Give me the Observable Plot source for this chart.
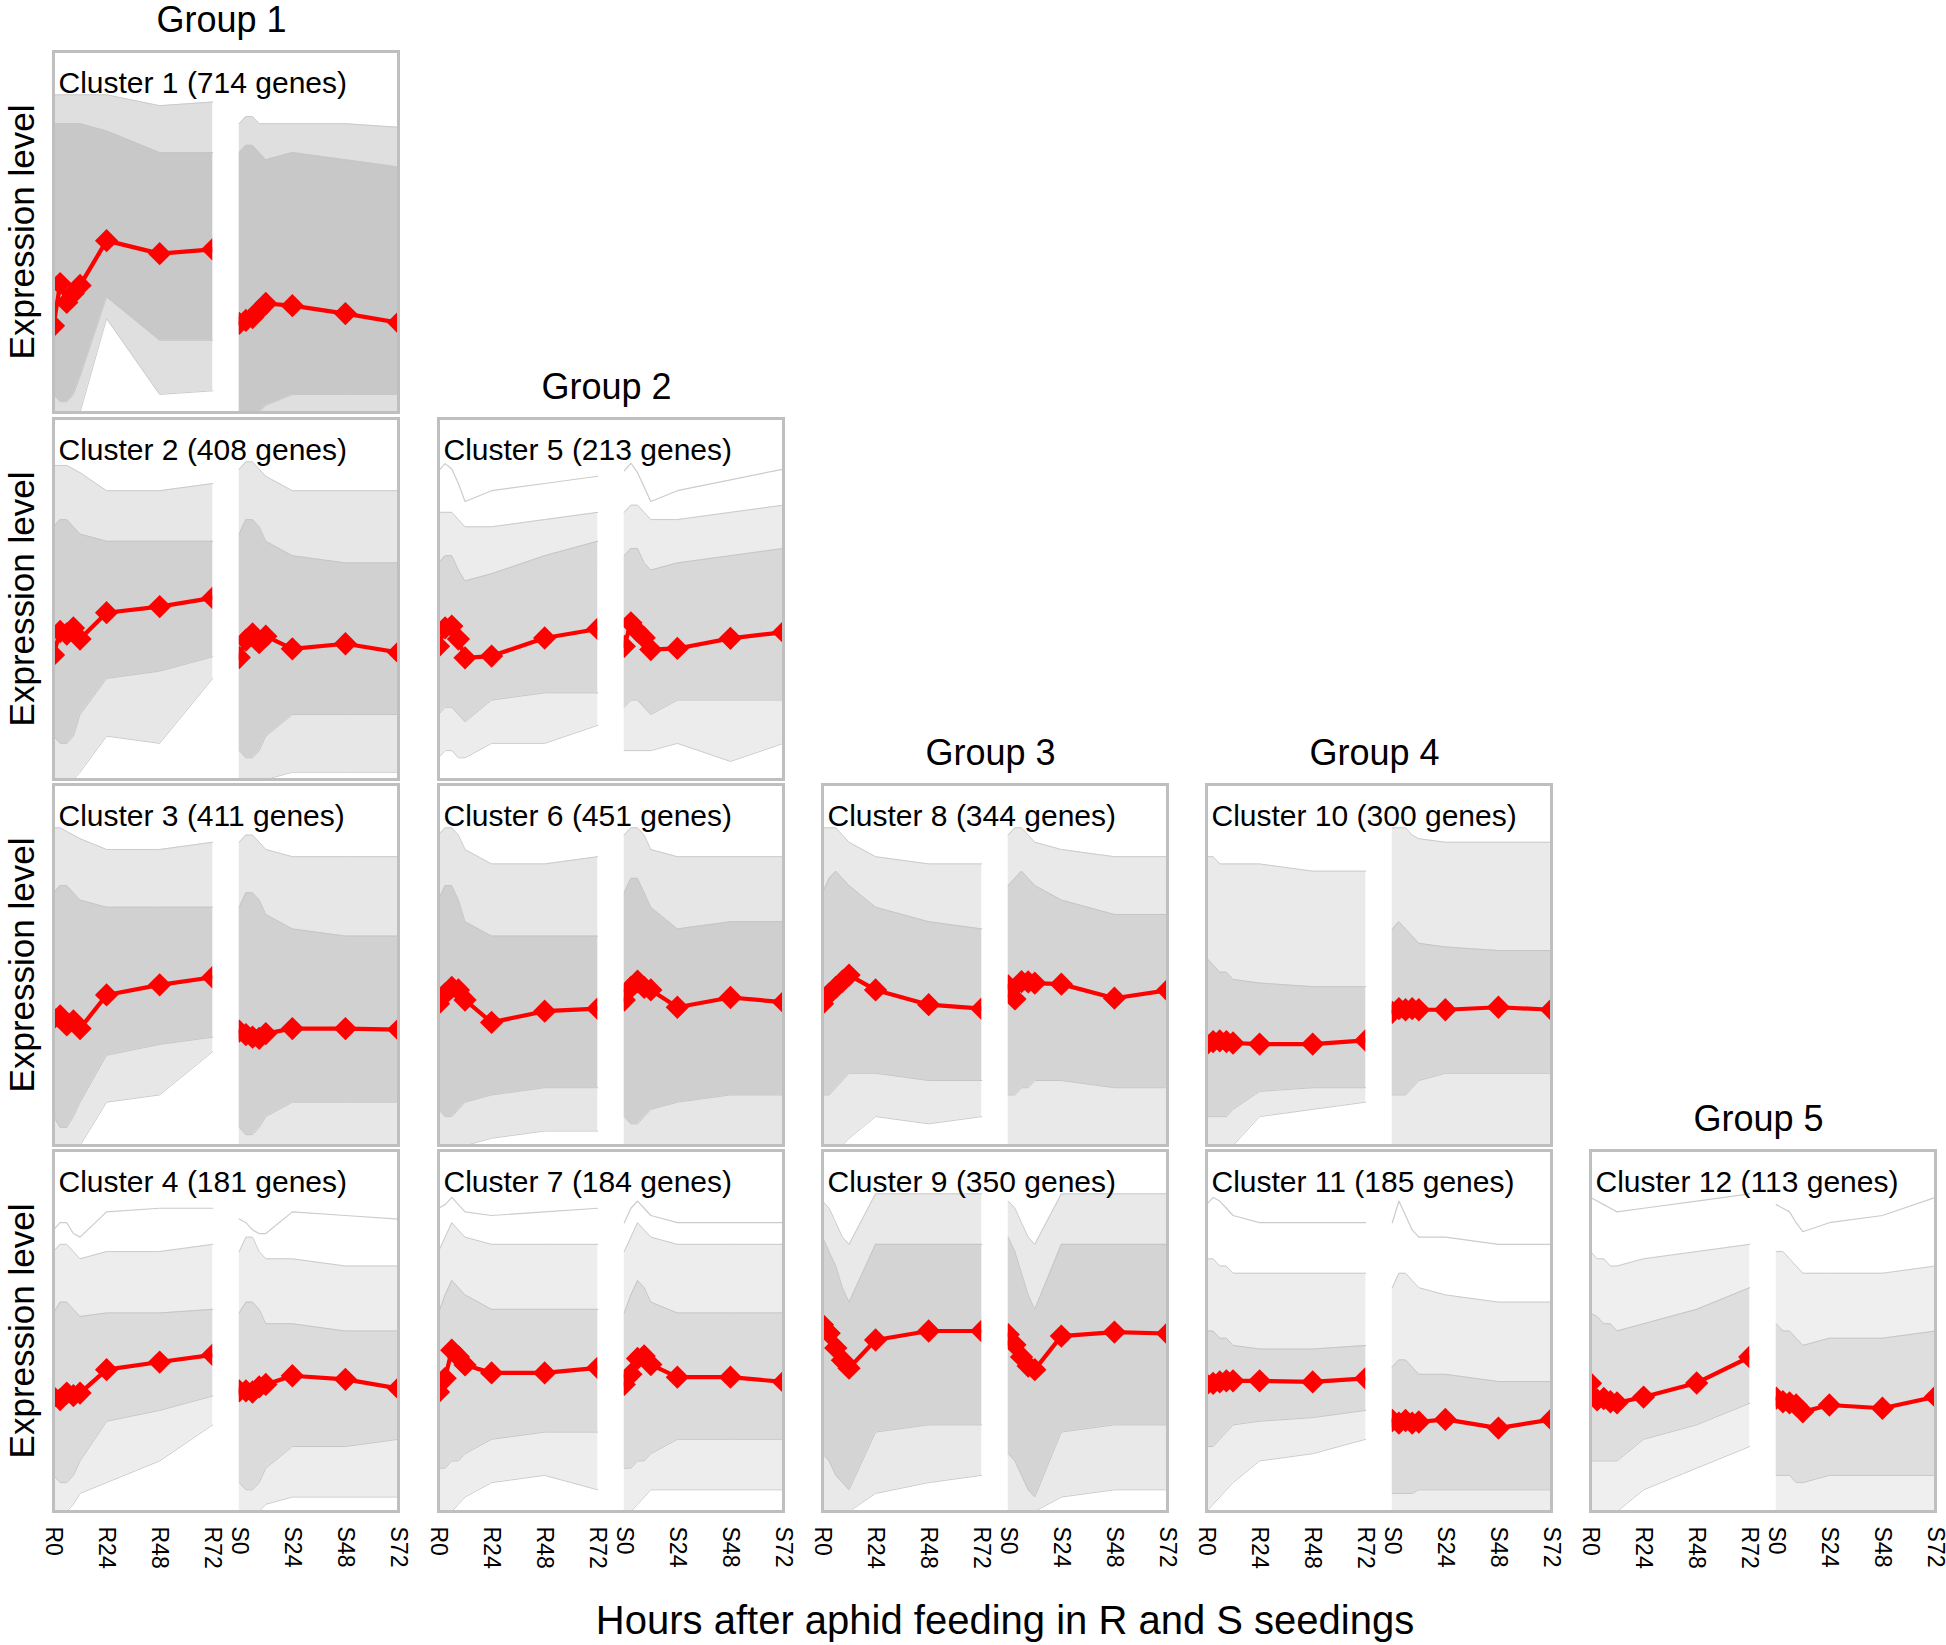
<!DOCTYPE html>
<html><head><meta charset="utf-8">
<script src="https://cdn.jsdelivr.net/npm/d3@7"></script>
<script src="https://cdn.jsdelivr.net/npm/@observablehq/plot@0.6"></script>
<style>
html,body{margin:0;padding:0;background:#fff;}
#fig{position:relative;width:1946px;height:1645px;font-family:"Liberation Sans",Arial,Helvetica,sans-serif;color:#000;overflow:hidden;}
.abs{position:absolute;white-space:nowrap;line-height:1;}
.group{font-size:36px;transform:translate(-50%,-50%);}
.ylab{font-size:35px;transform:translate(-50%,-50%) rotate(-90deg);}
.xlab{font-size:40px;transform:translate(-50%,-50%);}
.panel{position:absolute;}
</style></head><body><div id="fig"></div>
<script>
// ---------- data ----------
const times = [0, 3, 6, 9, 12, 24, 48, 72];
const tickValues = [0, 24, 48, 72, 84, 108, 132, 156];
const tickLabels = ["R0", "R24", "R48", "R72", "S0", "S24", "S48", "S72"];
const clusterIds = [1, 2, 3, 4, 5, 6, 7, 8, 9, 10, 11, 12];
const geneCounts = [714, 408, 411, 181, 213, 451, 184, 344, 350, 300, 185, 113];
const groupOf = [1, 1, 1, 1, 2, 2, 2, 3, 3, 4, 4, 5];
const groupLabels = ["Group 1", "Group 2", "Group 3", "Group 4", "Group 5"];
const xTitle = "Hours after aphid feeding in R and S seedings";
const yTitle = "Expression level";

// mean profiles (red), R genotype then S genotype
const meanR = [
  [24, 35.7, 30.5, 33, 35.2, 47.6, 44, 45.2],
  [34.5, 41, 40.3, 42, 38.9, 46.2, 47.9, 50.3],
  [35.2, 35.9, 33.4, 34.5, 32.4, 41.7, 44.5, 46.6],
  [31.7, 31, 32.8, 32.1, 32.8, 39.3, 41.4, 43.4],
  [36.9, 42, 42.5, 38.9, 33.7, 34.2, 39.2, 41.7],
  [39.3, 42, 43.8, 43.1, 40.3, 34.1, 37.2, 37.9],
  [33.1, 36.9, 44.7, 42.9, 40.6, 38.4, 38.4, 39.8],
  [39.3, 42, 43.8, 45.5, 47.2, 43.1, 39, 37.9],
  [51.7, 49.4, 45.3, 41.9, 39.7, 47.5, 50, 50],
  [28, 28.8, 29, 28.8, 28.4, 28.1, 28.1, 29.1],
  [35.2, 35.5, 35.9, 36.2, 36.2, 36.2, 35.9, 36.9],
  [35.5, 30.9, 31.3, 30.4, 30.1, 31.7, 35.6, 42.8]
];
const meanS = [
  [24.7, 25.5, 26.3, 28.3, 30.2, 29.6, 27.4, 24.9],
  [33.8, 38.6, 40.3, 37.9, 39.7, 36.2, 37.6, 35.2],
  [31.7, 30.7, 30, 29.7, 31, 32.4, 32.4, 32.1],
  [33.4, 33.4, 33.1, 34.5, 35.2, 37.6, 36.6, 34.1],
  [36.9, 43.4, 41.1, 39.3, 36, 36.3, 39.1, 40.8],
  [40.3, 43.8, 45.5, 43.8, 43.1, 38.3, 41, 39.7],
  [35.2, 38, 42.4, 43.1, 40.7, 37.2, 37.2, 35.9],
  [44.2, 40.6, 45.4, 45.3, 45, 44.7, 40.8, 43],
  [49, 46.2, 42.8, 40.3, 39.3, 48.6, 49.7, 49.3],
  [36.9, 37.9, 37.6, 37.9, 37.6, 37.6, 38.3, 37.6],
  [25.2, 24.5, 25.2, 24.5, 24.8, 25.5, 23.1, 25.5],
  [31.4, 30.4, 30.1, 29.5, 27.6, 29.5, 28.6, 31.8]
];

// gray gene profiles, summarised as envelopes
const outerHiR = [
  [88, 88, 88, 88, 88, 88, 85, 86], [87, 87, 87, 86, 85, 80, 80, 82], [88, 88, 87, 86, 85, 82, 82, 84],
  [72, 74, 74, 72, 70, 72, 72, 74], [74, 74, 74, 72, 70, 70, 72, 74], [86, 88, 88, 86, 82, 78, 78, 80],
  [72, 76, 80, 78, 76, 74, 74, 74], [88, 88, 88, 86, 84, 80, 78, 78], [86, 84, 80, 76, 74, 88, 88, 88],
  [80, 80, 78, 78, 78, 78, 76, 76], [70, 70, 68, 68, 66, 66, 66, 66], [72, 70, 70, 68, 68, 70, 72, 74]
];
const outerLoR = [
  [0, 0, 0, 0, 0, 26, 5, 6], [0, 0, 0, 0, 2, 12, 10, 28], [0, 0, 0, 0, 0, 12, 14, 26],
  [0, 0, 0, 2, 5, 8, 14, 24], [6, 8, 8, 6, 6, 10, 10, 15], [0, 0, 0, 0, 0, 2, 4, 4],
  [0, 0, 0, 2, 4, 8, 10, 6], [0, 0, 0, 0, 2, 8, 6, 8], [0, 0, 0, 0, 0, 5, 8, 10],
  [0, 0, 0, 0, 0, 8, 10, 12], [0, 2, 4, 6, 8, 14, 16, 20], [0, 0, 0, 0, 0, 6, 12, 18]
];
const denseHiR = [
  [80, 80, 80, 80, 80, 78, 72, 72], [70, 72, 72, 70, 68, 66, 66, 66], [70, 72, 72, 70, 68, 66, 66, 66],
  [55, 58, 58, 56, 54, 55, 55, 56], [60, 62, 62, 58, 55, 57, 62, 66], [68, 72, 72, 68, 62, 58, 58, 58],
  [55, 60, 64, 62, 60, 56, 56, 56], [70, 74, 76, 74, 72, 66, 62, 60], [76, 72, 68, 62, 58, 74, 74, 74],
  [52, 50, 48, 48, 46, 45, 44, 44], [50, 50, 48, 48, 46, 45, 45, 46], [55, 54, 52, 52, 50, 52, 56, 62]
];
const denseLoR = [
  [5, 3, 3, 5, 10, 32, 20, 20], [12, 10, 10, 12, 18, 28, 30, 34], [8, 5, 5, 8, 12, 25, 28, 30],
  [10, 8, 8, 10, 14, 25, 28, 32], [18, 20, 20, 18, 16, 22, 24, 24], [10, 8, 8, 10, 12, 14, 16, 16],
  [12, 12, 14, 14, 16, 20, 22, 22], [14, 14, 16, 18, 20, 20, 18, 18], [16, 14, 10, 8, 6, 22, 24, 24],
  [8, 8, 8, 8, 10, 15, 16, 16], [18, 18, 20, 22, 24, 25, 26, 28], [14, 14, 14, 14, 14, 20, 24, 30]
];
const outerHiS = [
  [80, 82, 82, 80, 80, 80, 80, 79], [86, 88, 88, 86, 84, 80, 80, 80], [84, 86, 86, 84, 82, 80, 80, 80],
  [72, 76, 76, 72, 70, 70, 68, 68], [74, 76, 76, 74, 72, 72, 74, 76], [86, 88, 88, 86, 82, 80, 80, 80],
  [72, 76, 80, 78, 76, 74, 74, 74], [86, 88, 88, 86, 84, 82, 80, 80], [86, 84, 80, 76, 74, 88, 88, 88],
  [88, 88, 88, 86, 85, 84, 84, 84], [62, 66, 66, 64, 62, 60, 58, 58], [72, 72, 70, 68, 66, 66, 66, 68]
];
const outerLoS = [
  [0, 0, 0, 0, 0, 0, 0, 0], [0, 0, 0, 0, 0, 2, 2, 2], [0, 0, 0, 0, 0, 0, 0, 0],
  [0, 0, 0, 0, 2, 4, 4, 4], [8, 8, 8, 8, 8, 10, 5, 10], [0, 0, 0, 0, 0, 0, 0, 0],
  [0, 0, 2, 4, 6, 6, 6, 6], [0, 0, 0, 0, 0, 0, 0, 0], [0, 0, 0, 0, 0, 4, 6, 6],
  [0, 0, 0, 0, 0, 0, 0, 0], [0, 0, 0, 0, 0, 0, 0, 0], [0, 0, 0, 0, 0, 0, 0, 0]
];
const denseHiS = [
  [72, 74, 74, 72, 70, 72, 70, 68], [68, 72, 72, 70, 66, 62, 60, 60], [66, 70, 70, 68, 64, 60, 58, 58],
  [55, 58, 58, 56, 52, 52, 50, 50], [62, 64, 64, 60, 58, 60, 62, 64], [70, 74, 74, 70, 66, 60, 62, 62],
  [55, 60, 64, 62, 58, 55, 55, 55], [72, 74, 76, 74, 72, 68, 64, 64], [76, 72, 66, 60, 56, 74, 74, 74],
  [60, 62, 60, 58, 56, 55, 54, 54], [40, 42, 42, 40, 38, 38, 36, 36], [52, 50, 50, 48, 46, 48, 48, 50]
];
const denseLoS = [
  [0, 0, 0, 0, 2, 5, 5, 5], [8, 6, 6, 8, 12, 18, 18, 18], [5, 3, 3, 5, 8, 12, 12, 12],
  [8, 6, 6, 8, 12, 18, 18, 20], [20, 22, 22, 20, 18, 22, 22, 22], [8, 6, 6, 8, 10, 12, 14, 14],
  [12, 12, 14, 14, 16, 20, 20, 20], [14, 14, 16, 16, 18, 18, 16, 16], [16, 14, 10, 6, 4, 22, 24, 24],
  [14, 14, 14, 16, 18, 20, 20, 20], [5, 5, 5, 5, 6, 6, 6, 6], [10, 10, 10, 8, 8, 10, 10, 10]
];
// conspicuous single gene profiles near the top of some panels
const topGeneR = [null, null, null,
  [78, 80, 80, 77, 76, 83, 84, 84], [85.5, 87.5, 86, 82, 77, 80, 82, 84], null,
  [84, 85, 87, 85, 83, 82, 83, 84], null, null, null,
  [85, 87, 86, 84, 82, 80, 80, 80], [87, 86, 85, 84, 83, 84, 86, 88]];
const topGeneS = [null, null, null,
  [81, 80, 78, 77, 77, 83, 82, 81], [85.5, 87.6, 85, 81, 77, 80, 83, 86], null,
  [80, 84, 86, 84, 82, 80, 80, 80], null, null, null,
  [80, 86, 82, 78, 76, 76, 74, 74], [85, 84, 83, 80, 77.5, 80, 82, 87]];

// ---------- layout ----------
const panelCol = [0, 0, 0, 0, 1, 1, 1, 2, 2, 3, 3, 4];
const panelRow = [0, 1, 2, 3, 1, 2, 3, 2, 3, 2, 3, 3];
const colX = [53, 438, 822, 1206, 1590];
const rowY = [51, 418, 784, 1150];
const PW = 345, PH = 361, M = 3;
const sOffset = 84;

const fig = document.getElementById("fig");
let clipCounter = 0;
function clipX(lo, hi) {
  return function (index, scales, values, dims, context, next) {
    const g = next(index, scales, values, dims, context);
    if (!g) return g;
    const ns = "http://www.w3.org/2000/svg";
    const id = "clp" + (clipCounter++);
    const wrap = document.createElementNS(ns, "g");
    const cp = document.createElementNS(ns, "clipPath");
    cp.setAttribute("id", id);
    const r = document.createElementNS(ns, "rect");
    const x0 = scales.x(lo), x1 = scales.x(hi);
    r.setAttribute("x", x0);
    r.setAttribute("width", x1 - x0);
    r.setAttribute("y", dims.marginTop);
    r.setAttribute("height", dims.height - dims.marginTop - dims.marginBottom);
    cp.appendChild(r);
    wrap.appendChild(cp);
    const inner = document.createElementNS(ns, "g");
    inner.setAttribute("clip-path", `url(#${id})`);
    inner.appendChild(g);
    wrap.appendChild(inner);
    return wrap;
  };
}

function rows(i, geno) {
  const off = geno === "R" ? 0 : sOffset;
  const mean = geno === "R" ? meanR[i] : meanS[i];
  const oh = geno === "R" ? outerHiR[i] : outerHiS[i];
  const ol = geno === "R" ? outerLoR[i] : outerLoS[i];
  const dh = geno === "R" ? denseHiR[i] : denseHiS[i];
  const dl = geno === "R" ? denseLoR[i] : denseLoS[i];
  const tg = geno === "R" ? topGeneR[i] : topGeneS[i];
  return times.map((t, j) => ({
    t: t + off, geno, mean: mean[j], oh: oh[j], ol: ol[j], dh: dh[j], dl: dl[j],
    top: tg ? tg[j] : null
  }));
}

const firstOfGroup = {};
clusterIds.forEach((c, i) => {
  const row = panelRow[i], col = panelCol[i];
  const bottomRow = row === 3;
  const mb = bottomRow ? 80 : M;
  const R = rows(i, "R"), S = rows(i, "S");
  const g = geneCounts[i];
  const opO = 0.3 + 0.4 * g / 714;
  const opD = 0.3 + 0.5 * g / 714;
  const red = "#ff0000";
  const marks = [];
  for (const [D, lo, hi] of [[R, 0, 72], [S, sOffset, sOffset + 72]]) {
    const clip = clipX(lo, hi);
    marks.push(
      Plot.areaY(D, {x: "t", y1: "ol", y2: "oh", fill: "#d2d2d2", fillOpacity: opO}),
      Plot.areaY(D, {x: "t", y1: "dl", y2: "dh", fill: "#c2c2c2", fillOpacity: opD}),
      Plot.lineY(D, {x: "t", y: "oh", stroke: "#cbcbcb", strokeWidth: 1}),
      Plot.lineY(D, {x: "t", y: "ol", stroke: "#cbcbcb", strokeWidth: 1}),
      Plot.lineY(D, {x: "t", y: "dh", stroke: "#c6c6c6", strokeWidth: 1}),
      Plot.lineY(D, {x: "t", y: "dl", stroke: "#c6c6c6", strokeWidth: 1})
    );
    if (D[0].top != null) marks.push(Plot.lineY(D, {x: "t", y: "top", stroke: "#cccccc", strokeWidth: 1.2}));
    marks.push(
      Plot.lineY(D, {x: "t", y: "mean", stroke: red, strokeWidth: 4.2, render: clip}),
      Plot.dot(D, {x: "t", y: "mean", symbol: "diamond2", r: 10.5, fill: red, stroke: "none", render: clip})
    );
  }
  marks.push(Plot.frame({stroke: "#bfbfbf", strokeWidth: 3}));
  marks.push(Plot.text([`Cluster ${c} (${g} genes)`], {
    frameAnchor: "top-left", text: d => d, dx: 5, dy: 32, lineAnchor: "middle",
    textAnchor: "start", fontSize: 30, fill: "#000"
  }));
  if (bottomRow) {
    marks.push(Plot.axisX(tickValues, {
      tickFormat: d => tickLabels[tickValues.indexOf(d)], tickRotate: 90, tickSize: 0,
      tickPadding: 15, fontSize: 23, fill: "#000", label: null
    }));
  }
  const chart = Plot.plot({
    width: PW + 2 * M, height: PH + M + mb,
    marginLeft: M, marginRight: M, marginTop: M, marginBottom: mb,
    x: {domain: [0, sOffset + 72], axis: bottomRow ? undefined : null, label: null},
    y: {domain: [0, 100], axis: null},
    style: {fontFamily: '"Liberation Sans", Arial, Helvetica, sans-serif', fontSize: "22px", color: "#000", overflow: "visible", background: "transparent"},
    marks
  });
  const wrap = document.createElement("div");
  wrap.className = "panel";
  wrap.style.left = (colX[col] - M) + "px";
  wrap.style.top = (rowY[row] - M) + "px";
  wrap.appendChild(chart);
  fig.appendChild(wrap);
  const grp = groupOf[i];
  if (!(grp in firstOfGroup)) {
    firstOfGroup[grp] = true;
    const gl = document.createElement("div");
    gl.className = "abs group";
    gl.textContent = groupLabels[grp - 1];
    gl.style.left = (colX[col] + PW / 2 - 4) + "px";
    gl.style.top = (rowY[row] - 31) + "px";
    fig.appendChild(gl);
  }
});

rowY.forEach(y => {
  const yl = document.createElement("div");
  yl.className = "abs ylab";
  yl.textContent = yTitle;
  yl.style.left = "21px";
  yl.style.top = (y + PH / 2) + "px";
  fig.appendChild(yl);
});
const xl = document.createElement("div");
xl.className = "abs xlab";
xl.textContent = xTitle;
xl.style.left = "1005px";
xl.style.top = "1620px";
fig.appendChild(xl);
</script></body></html>
